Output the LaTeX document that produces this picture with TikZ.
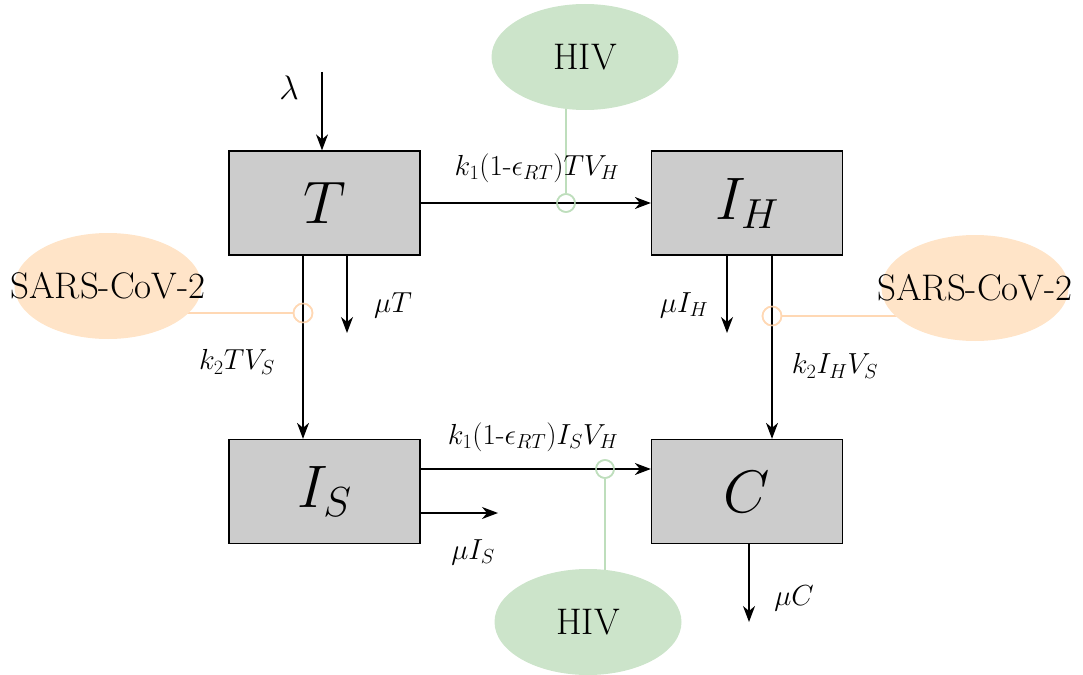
\RequirePackage{fix-cm}
\documentclass[tikz,border=0pt]{standalone}
\usetikzlibrary{arrows.meta,shapes.geometric}
\definecolor{hivfill}{RGB}{204,228,202}
\definecolor{hivline}{RGB}{190,222,188}
\definecolor{sarsfill}{RGB}{255,228,200}
\definecolor{sarsline}{RGB}{255,216,180}
\definecolor{boxfill}{RGB}{204,204,204}
\pgfdeclarelayer{background}
\pgfsetlayers{background,main}
\begin{document}
\begin{tikzpicture}[x=1pt,y=-1pt,
  comp/.style={draw=black, line width=1.3pt, fill=boxfill, minimum width=191pt, minimum height=104pt, inner sep=0pt, font=\fontsize{60}{72}\selectfont},
  virus/.style={ellipse, inner sep=0pt, minimum width=187pt, minimum height=106pt, font=\fontsize{37}{42}\selectfont},
  hivnode/.style={virus, fill=hivfill},
  sarsnode/.style={virus, fill=sarsfill},
  hivring/.style={circle, draw=hivline, line width=1.6pt, minimum size=18pt, inner sep=0pt},
  sarsring/.style={circle, draw=sarsline, line width=1.6pt, minimum size=19pt, inner sep=0pt},
  hivlink/.style={draw=hivline, line width=1.6pt},
  sarslink/.style={draw=sarsline, line width=1.6pt},
  flow/.style={draw=black, line width=1.3pt, -{Stealth[length=16pt,width=12pt,inset=5pt]}},
  rate/.style={inner sep=0pt, font=\fontsize{29}{33}\selectfont},
  bigrate/.style={inner sep=0pt, font=\fontsize{34}{40}\selectfont}]
\useasboundingbox (0,0) rectangle (1083,674);

% compartments
\node[comp] (T)  at (324.5,203) {$T$};
\node[comp] (IH) at (747,203) {$I_H$};
\node[comp] (IS) at (324.5,491.5) {$I_S$};
\node[comp] (C)  at (747,491.5) {$C$};

% viruses
\node[hivnode] (hivA) at (585,57) {\makebox[0pt]{HIV}};
\node[hivnode] (hivB) at (588,622) {\makebox[0pt]{HIV}};
\node[sarsnode] (sarsL) at (108,286) {\makebox[0pt]{SARS-CoV-2}};
\node[sarsnode] (sarsR) at (975,288) {\makebox[0pt]{SARS-CoV-2}};

% rings
\node[hivring] (r1) at (566,203) {};
\node[sarsring] (r2) at (303,313) {};
\node[sarsring] (r3) at (772,316) {};
\node[hivring] (r4) at (605,469) {};

% free ends
\coordinate (lam) at (322,72);
\coordinate (muTe) at (347,333);
\coordinate (muIHe) at (727,333);
\coordinate (muISe) at (498,513);
\coordinate (muCe) at (749,622);

% links behind the viruses
\begin{pgfonlayer}{background}
\draw[hivlink] (r1.north) -- (r1 |- hivA.center);
\draw[hivlink] (r4.south) -- (r4 |- hivB.center);
\draw[sarslink] (r2.west) -- (sarsL.center |- r2);
\draw[sarslink] (r3.east) -- (sarsR.center |- r3);
\end{pgfonlayer}

% flows
\draw[flow] (lam) -- (T.north -| lam);
\draw[flow] (T) -- (IH);
\draw[flow] (T.south -| r2) -- (IS.north -| r2);
\draw[flow] (T.south -| muTe) -- (muTe);
\draw[flow] (IH.south -| r3) -- (C.north -| r3);
\draw[flow] (IH.south -| muIHe) -- (muIHe);
\draw[flow] (IS.east |- r4) -- (C.west |- r4);
\draw[flow] (IS.east |- muISe) -- (muISe);
\draw[flow] (C.south -| muCe) -- (muCe);

% rings on top again (semi-transparent look)
\node[hivring, draw opacity=0.85] at (r1) {};
\node[sarsring, draw opacity=0.85] at (r2) {};
\node[sarsring, draw opacity=0.85] at (r3) {};
\node[hivring, draw opacity=0.85] at (r4) {};

% labels
\node[bigrate] (lamlab) at (289,88) {$\lambda$};
\node[rate] (l1) at (537,168) {$k_1$(1-$\epsilon_{RT})TV_H$};
\node[rate] (l2) at (237,362) {$k_2TV_S$};
\node[rate] (l3) at (393,305) {$\mu T$};
\node[rate] (l4) at (684,305) {$\mu I_H$};
\node[rate] (l5) at (835,366) {$k_2I_HV_S$};
\node[rate] (l6) at (533,437) {$k_1$(1-$\epsilon_{RT})I_SV_H$};
\node[rate] (l7) at (473,552) {$\mu I_S$};
\node[rate] (l8) at (794,598) {$\mu C$};
\end{tikzpicture}
\end{document}
